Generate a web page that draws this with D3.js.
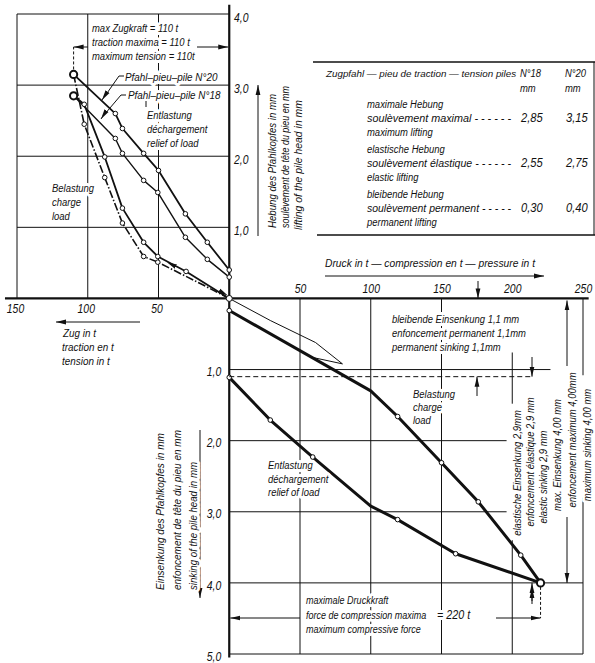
<html>
<head>
<style>
    body { margin: 0; background: white; }
    svg { display: block; }
    text {
        font-family: "Liberation Sans", Arimo, sans-serif;
        font-style: italic;
        fill: #111;
    }
    .halo { paint-order: stroke; stroke: white; stroke-width: 6px; stroke-linejoin: round; }
</style>
<script src="https://cdn.jsdelivr.net/npm/d3@7"></script>
</head>
<body>
<svg id="chart"></svg>
<script>
// tick values
let tensionTicks = [-150, -100, -50]
let compressionTicks = [50, 100, 150, 200, 250]
let liftTicks = [1, 2, 3, 4]
let sinkTicks = [-1, -2, -3, -4, -5]

// tension test: [load t, lifting mm]
let pile20Unload = [[110, 3.15], [80.5, 2.60], [75.5, 2.39], [60.5, 2.04], [50, 1.80], [31, 1.19], [15.5, 0.79], [0, 0.40]]
let pile18Unload = [[110, 2.85], [80.5, 2.25], [75.5, 2.04], [60.5, 1.66], [50.5, 1.49], [31, 0.86], [15.5, 0.55], [0, 0.30]]
let pile18Load = [[0, 0], [30.5, 0.38], [50.5, 0.59], [60.5, 0.79], [75.5, 1.27], [88, 1.99], [102.5, 2.73], [110, 2.85]]
let pile20Load = [[0, 0], [20.5, 0.21], [50.5, 0.51], [60.5, 0.59], [75.5, 1.06], [88, 1.70], [102.5, 2.45], [110, 3.15]]

// compression test: [load t, sinking mm]
let preLoop = [[0, 0], [29, 0.31], [61, 0.62], [80, 0.92], [59, 0.83], [0, 0.17]]
let compLoad = [[0, 0.17], [100, 1.30], [119, 1.66], [150, 2.31], [176, 2.86], [206, 3.61], [220, 4.0]]
let compUnload = [[220, 4.0], [160, 3.59], [119, 3.11], [100, 2.92], [59, 2.23], [29, 1.71], [0, 1.11]]

let width = 595, height = 663
let svg = d3.select("#chart").attr("width", width).attr("height", height)

let x = d3.scaleLinear().domain([-150, 250]).range([17, 583])
let y = d3.scaleLinear().domain([-5, 4]).range([654, 14])
let fmt = d => d3.format(".1f")(Math.abs(d)).replace(".", ",")
let SX = 0.86   // narrow stencil lettering

// arrow head
svg.append("defs").append("marker")
    .attr("id", "ah").attr("markerUnits", "userSpaceOnUse")
    .attr("markerWidth", 10).attr("markerHeight", 6)
    .attr("refX", 10).attr("refY", 3).attr("orient", "auto")
    .append("path").attr("d", "M0,0.6 L10,3 L0,5.4 z").attr("fill", "#111")

function line(x1, y1, x2, y2, w, dash) {
    return svg.append("line").attr("x1", x1).attr("y1", y1).attr("x2", x2).attr("y2", y2)
        .attr("stroke", "#111").attr("stroke-width", w || 1)
        .attr("stroke-dasharray", dash || null)
}
function arrow(x1, y1, x2, y2) {
    return line(x1, y1, x2, y2, 1).attr("marker-end", "url(#ah)")
}
function label(px, py, str, size, anchor, len) {
    let t = svg.append("text").attr("class", "halo")
        .attr("font-size", size || 11).attr("text-anchor", anchor || "start").text(str)
    if (len) t.attr("x", px).attr("y", py).attr("textLength", len).attr("lengthAdjust", "spacingAndGlyphs")
    else t.attr("transform", `translate(${px},${py}) scale(${SX},1)`)
    return t
}
function vlabel(px, py, str, size, anchor, len) {
    let t = svg.append("text").attr("class", "halo")
        .attr("dominant-baseline", "central")
        .attr("font-size", size || 11).attr("text-anchor", anchor || "start").text(str)
    if (len) t.attr("transform", `translate(${px},${py}) rotate(-90)`).attr("textLength", len).attr("lengthAdjust", "spacingAndGlyphs")
    else t.attr("transform", `translate(${px},${py}) rotate(-90) scale(${SX},1)`)
    return t
}

// ---- grids ----
let grid = svg.append("g").attr("stroke", "#111").attr("stroke-width", 1)
// upper left quadrant
tensionTicks.forEach(t => grid.append("line").attr("x1", x(t)).attr("x2", x(t)).attr("y1", y(4)).attr("y2", y(0)))
liftTicks.forEach(v => grid.append("line").attr("x1", x(-150)).attr("x2", x(0)).attr("y1", y(v)).attr("y2", y(v)))
// lower right quadrant
let gridEnd = { "-1": 227, "-2": 196, "-3": 196, "-4": 250, "-5": 250 }
sinkTicks.forEach(v => grid.append("line").attr("x1", x(0)).attr("x2", x(gridEnd[v])).attr("y1", y(v)).attr("y2", y(v)))
compressionTicks.filter(t => t < 200).forEach(t => grid.append("line").attr("x1", x(t)).attr("x2", x(t)).attr("y1", y(0)).attr("y2", y(-5)))
grid.append("line").attr("x1", x(200)).attr("x2", x(200)).attr("y1", y(-0.76)).attr("y2", y(-1.48))
grid.append("line").attr("x1", x(200)).attr("x2", x(200)).attr("y1", y(-3.4)).attr("y2", y(-5))
grid.append("line").attr("x1", x(250)).attr("x2", x(250)).attr("y1", y(0)).attr("y2", y(-1.08))
grid.append("line").attr("x1", x(250)).attr("x2", x(250)).attr("y1", y(-2.8)).attr("y2", y(-5))

// main axes
line(x(-158.5), y(0), x(254), y(0), 2.2)
line(x(0), y(4.13), x(0), y(-5.05), 2.2)

// ---- tick labels through d3 axes ----
function styleAxis(g) {
    g.select(".domain").remove()
    g.selectAll("text").attr("font-size", 13).attr("fill", "#111")
        .attr("font-family", null).attr("font-style", "italic")
        .attr("transform", "scale(0.8,1)")
}
svg.append("g").attr("transform", `translate(-2,${y(0)})`)
    .call(d3.axisBottom(x).tickValues(tensionTicks).tickSize(0).tickPadding(5).tickFormat(d => Math.abs(d)))
    .call(styleAxis)
svg.append("g").attr("transform", `translate(0,${y(0)})`)
    .call(d3.axisTop(x).tickValues(compressionTicks).tickSize(0).tickPadding(5))
    .call(styleAxis)
svg.append("g").attr("transform", `translate(${x(0)},3)`)
    .call(d3.axisRight(y).tickValues(liftTicks).tickSize(0).tickPadding(6).tickFormat(fmt))
    .call(styleAxis)
svg.append("g").attr("transform", `translate(${x(0)},2)`)
    .call(d3.axisLeft(y).tickValues(sinkTicks).tickSize(0).tickPadding(10).tickFormat(fmt))
    .call(styleAxis)

// ---- curves ----
let tLine = d3.line().x(d => x(-d[0])).y(d => y(d[1]))
let cLine = d3.line().x(d => x(d[0])).y(d => y(-d[1]))
function curve(gen, data, w, dash) {
    svg.append("path").attr("d", gen(data)).attr("fill", "none")
        .attr("stroke", "#111").attr("stroke-width", w).attr("stroke-linejoin", "round")
        .attr("stroke-dasharray", dash || null)
}
curve(tLine, pile20Unload, 1.8)
curve(tLine, pile18Unload, 1.4)
curve(tLine, pile18Load, 1.8)
curve(tLine, pile20Load, 1.6, "8,2,1.5,2")
curve(cLine, preLoop, 1)
curve(cLine, compLoad, 3)
curve(cLine, compUnload, 3)

function dots(px, py, list, r) {
    svg.append("g").selectAll("circle").data(list).enter().append("circle")
        .attr("cx", d => px(d)).attr("cy", d => py(d)).attr("r", r)
        .attr("fill", "white").attr("stroke", "#111").attr("stroke-width", r > 3 ? 2 : 1)
}
let tx = d => x(-d[0]), ty = d => y(d[1])
let cx = d => x(d[0]), cy = d => y(-d[1])
dots(tx, ty, pile20Unload.slice(1), 2.3)
dots(tx, ty, pile18Unload.slice(1), 2.3)
dots(tx, ty, pile18Load.slice(1, -1), 2.3)
dots(tx, ty, pile20Load.slice(2, -1), 2.3)
dots(cx, cy, compLoad.slice(0, 1).concat(compLoad.slice(2, -1)), 2.3)
dots(cx, cy, compUnload.slice(1, 3).concat(compUnload.slice(4)), 2.3)
dots(tx, ty, [pile20Unload[0], pile18Unload[0]], 3.6)
dots(cx, cy, [compLoad[compLoad.length - 1]], 3.6)
dots(cx, cy, [[0, 0]], 3)

// direction arrows on the loading curves
arrow(x(-33), y(0.40), x(-44), y(0.51)).attr("stroke-width", 0)
arrow(x(-10), y(0.14), x(-1), y(0.04)).attr("stroke-width", 0)

// ---- upper left annotations ----
label(92, 32, "max Zugkraft = 110 t")
label(92, 46, "traction maxima = 110 t")
label(92, 60, "maximum tension = 110t")
line(x(-110), y(3.15) - 5, x(-110), 47, 1, "3,2")
arrow(88, 47, x(-110), 47)
arrow(197, 47, x(0) - 1, 47)

label(125, 81, "Pfahl\u2013pieu\u2013pile  N\u00b020", 11.5)
label(128, 99, "Pfahl\u2013pieu\u2013pile  N\u00b018", 11.5)
svg.append("polyline").attr("points", "124,76 119,76 105,96").attr("fill", "none").attr("stroke", "#111")
arrow(106, 94, 102, 100)
svg.append("polyline").attr("points", "126,95 121,95 104,115").attr("fill", "none").attr("stroke", "#111")
arrow(105, 113, 101, 119)
line(146, 101, 146, 107)
label(147, 119, "Entlastung")
label(147, 133, "d\u00e9chargement")
label(147, 147, "relief of load")

label(52, 192, "Belastung")
label(52, 206, "charge")
label(52, 220, "load")

// lifting axis title
arrow(258, 236, 258, 85)
vlabel(272, 228, "Hebung des Pfahlkopfes in mm", 11, "start", 134)
vlabel(285, 228, "soul\u00e8vement de t\u00eate du pieu en mm", 11, "start", 142)
vlabel(298, 230, "lifting of the pile head in mm", 11, "start", 130)

// tension arrow
arrow(140, 322, 56, 322)
label(63, 337, "Zug  in  t", 11.5)
label(62, 351, "traction en t", 11.5)
label(62, 365, "tension  in  t", 11.5)

// ---- table ----
line(313, 62, 595, 62, 1.4)
line(317, 235, 595, 235, 1.4)
line(594, 62, 594, 235, 1)
svg.append("text").attr("x", 326).attr("y", 77).attr("font-size", 9.8)
    .text("Zugpfahl \u2014 pieu de traction \u2014 tension piles")
label(520, 77, "N\u00b018")
label(565, 77, "N\u00b020")
label(520, 92, "mm")
label(565, 92, "mm")
let rows = [
    ["maximale Hebung", "soul\u00e8vement maximal - - - - - -", "maximum lifting", "2,85", "3,15"],
    ["elastische Hebung", "soul\u00e8vement \u00e9lastique - - - - - -", "elastic lifting", "2,55", "2,75"],
    ["bleibende Hebung", "soul\u00e8vement permanent - - - - -", "permanent lifting", "0,30", "0,40"]
]
rows.forEach((r, i) => {
    let by = 108 + i * 45
    label(367, by, r[0])
    label(367, by + 14, r[1], 11, "start", 144)
    label(367, by + 28, r[2])
    label(521, by + 14, r[3], 13)
    label(566, by + 14, r[4], 13)
})

// compression title
label(325, 267, "Druck in t \u2014 compression en t \u2014 pressure in t", 11.5, "start", 210)
arrow(325, 276, 544, 276)

// ---- lower right annotations ----
label(392, 323, "bleibende Einsenkung  1,1 mm")
label(392, 337, "enfoncement permanent 1,1mm")
label(392, 351, "permanent sinking  1,1mm")
line(x(0), y(-1.1), 532, y(-1.1), 1, "5,3")
arrow(478, 281, 478, y(0))
arrow(477, 396, 477, y(-1.1))
arrow(532, 357, 532, y(-1.1))
arrow(532, 601, 532, y(-4))

label(413, 398, "Belastung")
label(413, 411, "charge")
label(413, 424, "load")

label(268, 469, "Entlastung")
label(268, 483, "d\u00e9chargement")
label(268, 496, "relief of load")

vlabel(517, 473, "elastische Einsenkung  2,9mm", 11, "middle")
vlabel(530, 462, "enfoncement \u00e9lastique  2,9 mm", 11, "middle")
vlabel(543, 477, "elastic  sinking  2,9 mm", 11, "middle")
vlabel(557, 455, "max. Einsenkung  4,00 mm", 11, "middle")
vlabel(572, 440, "enfoncement maximum  4,00mm", 11, "middle")
vlabel(587, 445, "maximum  sinking  4,00 mm", 11, "middle")
arrow(567, 366, 567, y(0) + 2)
arrow(567, 517, 567, y(-4))

// sinking axis title
arrow(200, 430, 200, 598)
vlabel(160, 590, "Einsenkung  des  Pfahlkopfes  in  mm", 11, "start", 157)
vlabel(177, 590, "enfoncement  de  t\u00eate  du  pieu  en  mm", 11, "start", 160)
vlabel(193, 590, "sinking  of  the  pile  head  in  mm", 11, "start", 128)

// max compression
label(306, 604, "maximale Druckkraft", 10.5)
label(306, 619, "force de compression maxima", 10.5)
label(437, 619, "= 220 t", 12.5)
label(306, 633, "maximum compressive force", 10.5)
line(x(220), y(-4) + 4, x(220), 618, 1, "3,2")
arrow(300, 618, x(0) + 1, 618)
arrow(496, 618, x(220), 618)
arrow(532, 604, 532, 588)
</script>
</body>
</html>
